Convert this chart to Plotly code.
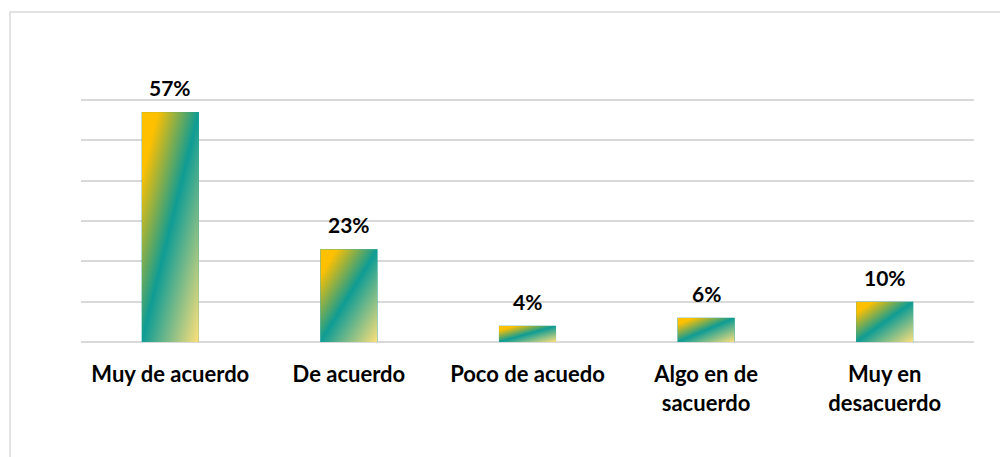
import base64
import plotly.graph_objects as go

categories = ["Muy de acuerdo", "De acuerdo", "Poco de acuedo", "Algo en de<br>sacuerdo", "Muy en<br>desacuerdo"]
values = [57, 23, 4, 6, 10]
labels = ["57%", "23%", "4%", "6%", "10%"]
y_ticks = [0, 10, 20, 30, 40, 50, 60]

# page body adds an 8px offset, so the figure is sized to the visible area
W, H = 1000, 449
ml, mr, mt, mb = 73, 34, 91, 115
bar_width = 0.32
FONT = "Lato"
y_max = 60.25

svg = ('<svg xmlns="http://www.w3.org/2000/svg" width="100" height="100" viewBox="0 0 100 100" '
       'preserveAspectRatio="none"><defs><linearGradient id="g" x1="0" y1="0" x2="1" y2="1">'
       '<stop offset="0" stop-color="#FFC000"/><stop offset="0.14" stop-color="#FFC000"/>'
       '<stop offset="0.5" stop-color="#0E9C94"/><stop offset="1" stop-color="#FFE07A"/>'
       '</linearGradient></defs><rect width="100" height="100" fill="url(#g)"/></svg>')
src = "data:image/svg+xml;base64," + base64.b64encode(svg.encode()).decode()

fig = go.Figure()
fig.add_trace(go.Bar(
    x=list(range(len(categories))), y=values,
    marker=dict(color="#0E9C94", line=dict(width=0)),
    width=bar_width, hoverinfo="skip",
))

images = []
annotations = []
for i, (v, lab) in enumerate(zip(values, labels)):
    images.append(dict(source=src, xref="x", yref="y", x=i, y=v, sizex=bar_width, sizey=v,
                       xanchor="center", yanchor="top", sizing="stretch", layer="above"))
    annotations.append(dict(x=i, y=v, xref="x", yref="y", text=lab, showarrow=False,
                            yanchor="bottom", yshift=10,
                            font=dict(family=FONT, size=21, color="#000000", weight="bold")))

pw = W - ml - mr
ph = H - mt - mb
fig.add_shape(type="rect", xref="paper", yref="paper",
              x0=(2 - ml) / pw, x1=(W + 5 - ml) / pw,
              y0=(H - mb - (H + 5)) / ph, y1=(H - mb - 4) / ph,
              line=dict(color="#D9D9D9", width=1.5), fillcolor="rgba(0,0,0,0)", layer="below")

fig.update_layout(
    width=W, height=H,
    margin=dict(l=ml, r=mr, t=mt, b=mb),
    paper_bgcolor="white", plot_bgcolor="white",
    showlegend=False,
    images=images, annotations=annotations,
    xaxis=dict(tickmode="array", tickvals=list(range(len(categories))), ticktext=categories,
               range=[-0.5, len(categories) - 0.5], showgrid=False, zeroline=False, showline=False,
               ticks="", ticklabelstandoff=17,
               tickfont=dict(family=FONT, size=22, color="#000000", weight="bold")),
    yaxis=dict(range=[0, y_max], tickvals=y_ticks, showticklabels=False, showgrid=True,
               gridcolor="#D9D9D9", gridwidth=1.5, zeroline=True, zerolinecolor="#D9D9D9",
               zerolinewidth=1.5, showline=False, ticks=""),
)

fig.write_html("out.html")
